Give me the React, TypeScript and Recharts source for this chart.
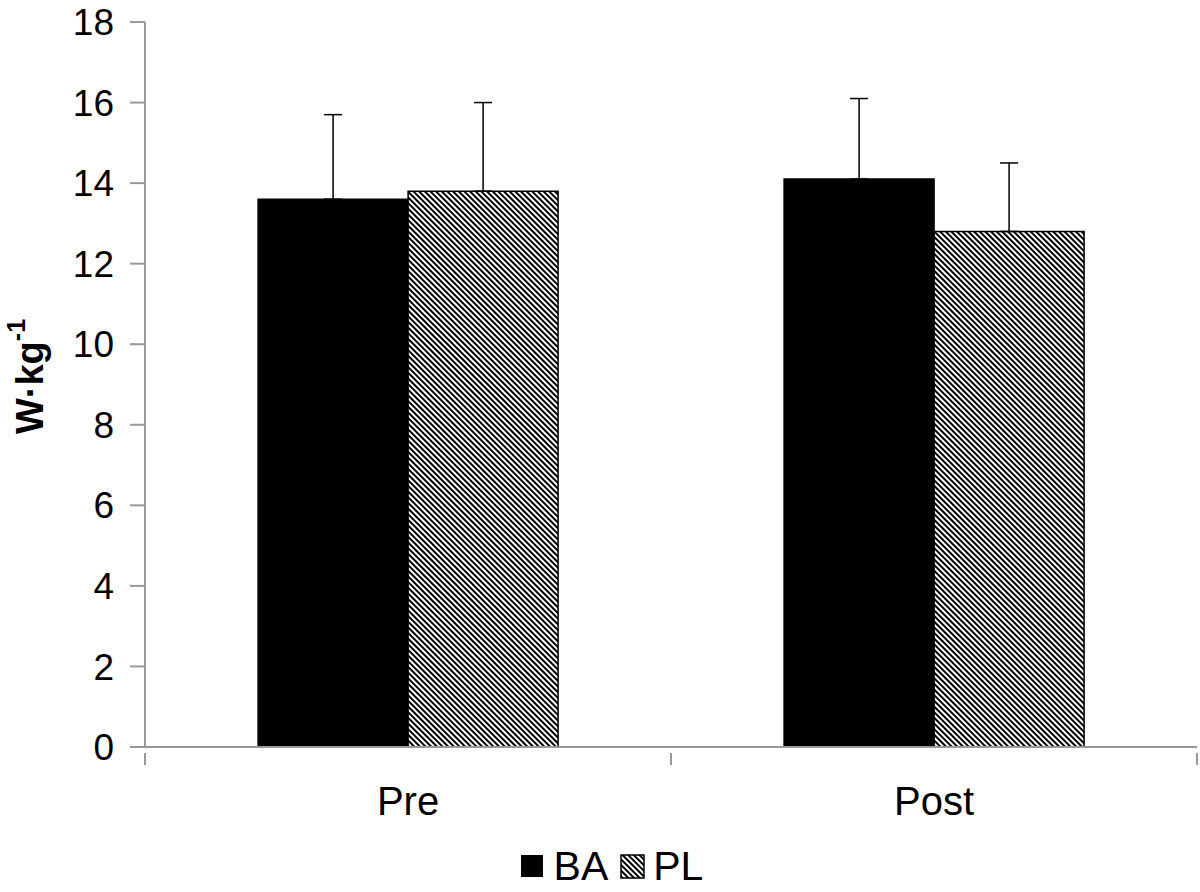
import { BarChart, Bar, XAxis, YAxis, ErrorBar, Legend, Label } from 'recharts';

const categories = ['Pre', 'Post'];
const baValues = [13.6, 14.1];
const plValues = [13.8, 12.8];
const baErrors = [2.1, 2.0];
const plErrors = [2.2, 1.7];
const yTicks = [0, 2, 4, 6, 8, 10, 12, 14, 16, 18];

const data = categories.map((name, i) => ({
  name,
  BA: baValues[i],
  PL: plValues[i],
  baErr: [0, baErrors[i]],
  plErr: [0, plErrors[i]],
}));

const FONT = '"Liberation Sans", Arial, sans-serif';
const AXIS = '#999';

function HatchDefs({ id }: { id: string }) {
  return (
    <pattern id={id} width="4" height="4" patternUnits="userSpaceOnUse" patternTransform="rotate(-45)">
      <rect width="4" height="4" fill="#fff" />
      <rect width="2" height="4" fill="#000" />
    </pattern>
  );
}

function LegendContent() {
  return (
    <div
      style={{
        display: 'flex',
        justifyContent: 'center',
        alignItems: 'center',
        fontFamily: FONT,
        fontSize: 41,
        lineHeight: '42px',
        height: 42,
        color: '#000',
        paddingLeft: 26,
        paddingTop: 3,
      }}
    >
      <svg width="24" height="24" style={{ marginRight: 10 }}>
        <rect x="1" y="1" width="22" height="22" fill="#000" />
      </svg>
      <span style={{ marginRight: 12 }}>BA</span>
      <svg width="25" height="25" style={{ marginRight: 8 }}>
        <defs>
          <HatchDefs id="hatchLegend" />
        </defs>
        <rect x="1" y="1" width="23" height="23" fill="url(#hatchLegend)" stroke="#000" strokeWidth="1.5" />
      </svg>
      <span>PL</span>
    </div>
  );
}

// category label plus the boundary tick marks on either side of the band
function CategoryTick(props: any) {
  const { x, y, payload } = props;
  const half = payload && payload.offset ? payload.offset : 263;
  return (
    <g>
      <line x1={x - half} x2={x - half} y1={y} y2={y + 12} stroke={AXIS} strokeWidth={2} />
      <line x1={x + half} x2={x + half} y1={y} y2={y + 12} stroke={AXIS} strokeWidth={2} />
      <text x={x} y={y + 62} textAnchor="middle" fontFamily={FONT} fontSize={40} fill="#000">
        {payload.value}
      </text>
    </g>
  );
}

function YLabel(props: any) {
  const { viewBox } = props;
  const cy = viewBox.y + viewBox.height / 2 - 8;
  return (
    <text
      x={30}
      y={cy}
      transform={`rotate(-90, 30, ${cy})`}
      textAnchor="middle"
      dominantBaseline="central"
      fontFamily={FONT}
      fontWeight="bold"
      fontSize={38}
      fill="#000"
    >
      W·kg<tspan dy={-14} fontSize={25}>-1</tspan>
    </text>
  );
}

export default function App() {
  return (
    <div style={{ position: 'absolute', left: 0, top: 0, background: '#fff' }}>
      <BarChart
        width={1200}
        height={892}
        data={data}
        margin={{ top: 22, right: 3, bottom: 0, left: 0 }}
        barCategoryGap="21.5%"
        barGap={0}
      >
        <defs>
          <HatchDefs id="hatchBar" />
        </defs>
        <XAxis
          dataKey="name"
          height={95}
          tickLine={false}
          stroke={AXIS}
          strokeWidth={2}
          tickMargin={0}
          tick={<CategoryTick />}
        />
        <YAxis
          width={145}
          domain={[0, 18]}
          ticks={yTicks}
          interval={0}
          tickSize={15}
          tickMargin={16}
          stroke={AXIS}
          strokeWidth={2}
          tick={{ fill: '#000', fontSize: 37, fontFamily: FONT }}
        >
          <Label content={<YLabel />} />
        </YAxis>
        <Legend verticalAlign="bottom" height={50} content={<LegendContent />} />
        <Bar dataKey="BA" fill="#000" stroke="#000" strokeWidth={1.5} isAnimationActive={false}>
          <ErrorBar dataKey="baErr" direction="y" width={9} stroke="#000" strokeWidth={1.5} />
        </Bar>
        <Bar dataKey="PL" fill="url(#hatchBar)" stroke="#000" strokeWidth={1.5} isAnimationActive={false}>
          <ErrorBar dataKey="plErr" direction="y" width={9} stroke="#000" strokeWidth={1.5} />
        </Bar>
      </BarChart>
    </div>
  );
}
